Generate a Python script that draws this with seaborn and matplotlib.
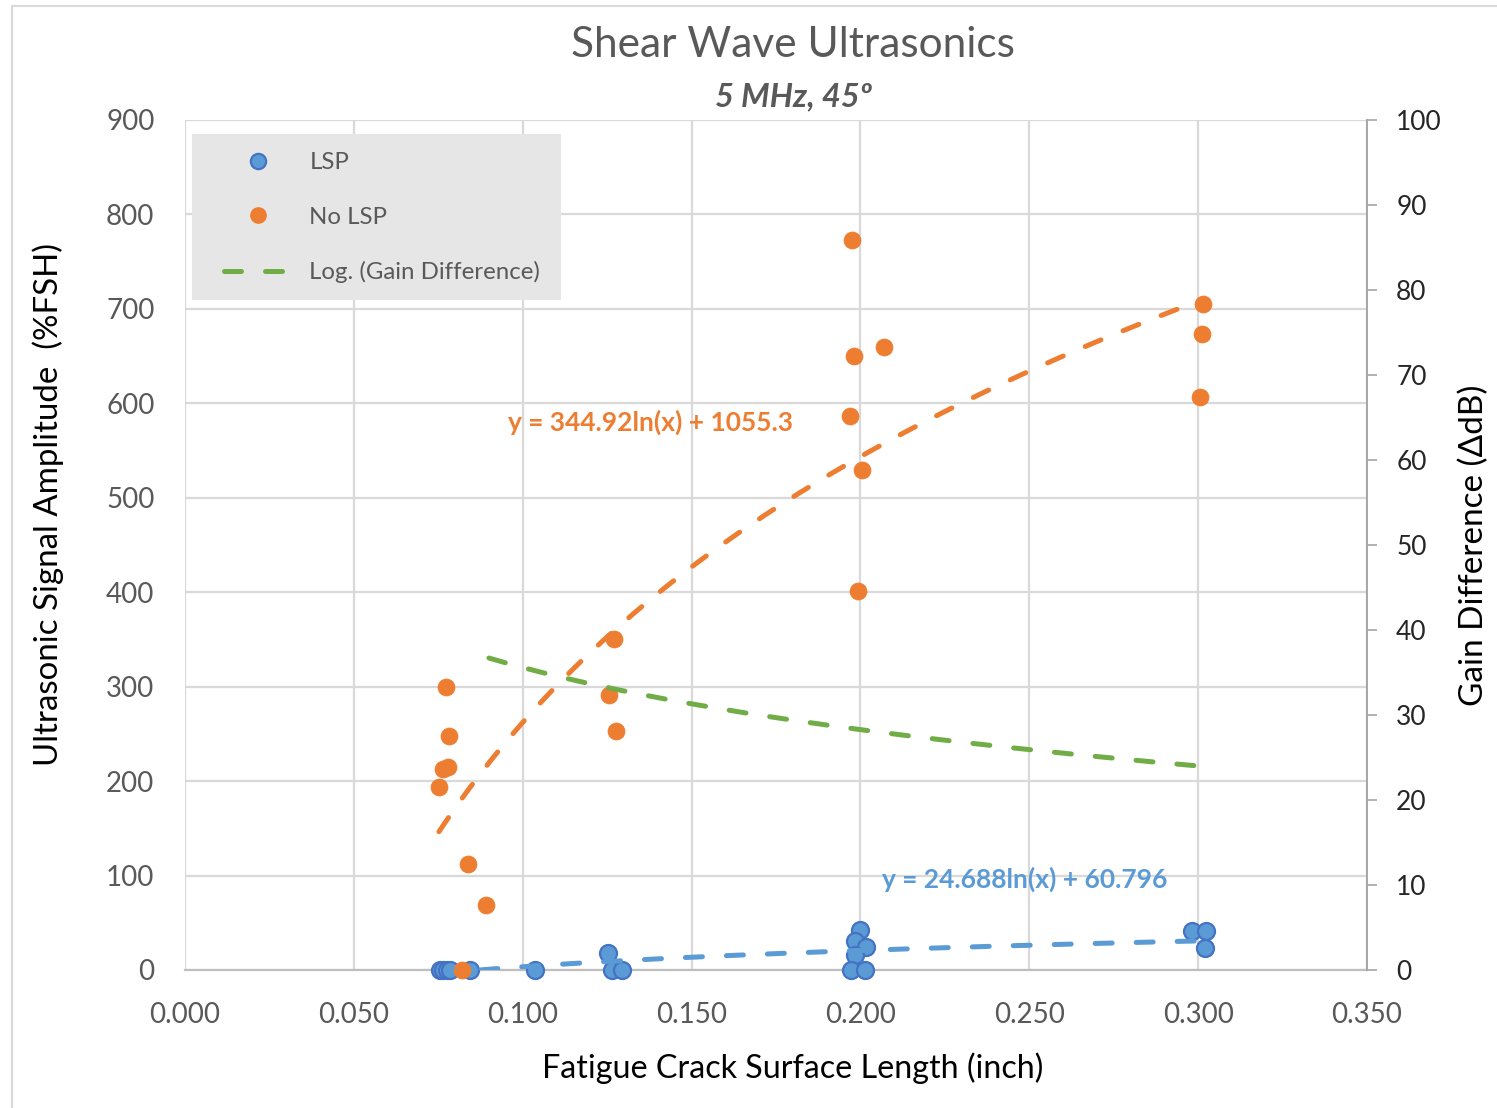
import numpy as np
import pandas as pd
import matplotlib
matplotlib.use("Agg")
import matplotlib.pyplot as plt
import seaborn as sns
from matplotlib.lines import Line2D
from matplotlib.patches import Rectangle

# ---------------- data ----------------
lsp_x = [0.0755, 0.0765, 0.0775, 0.0785, 0.0844, 0.1036, 0.1252, 0.1263, 0.1293,
         0.1999, 0.1984, 0.2017, 0.1984, 0.1972, 0.2014, 0.2982, 0.3023, 0.3020]
lsp_y = [0, 0, 0, 0, 0, 0, 17.7, 0, 0,
         42, 31, 24, 16, 0, 0, 41, 41, 23]

nolsp_x = [0.0773, 0.0782, 0.0779, 0.0764, 0.0752, 0.0838, 0.0891, 0.0820,
           0.1270, 0.1255, 0.1276,
           0.1975, 0.1980, 0.2070, 0.1969, 0.2005, 0.1993,
           0.3014, 0.3011, 0.3006]
nolsp_y = [300, 248, 215, 213, 194, 112, 69, 0,
           350, 291, 253,
           773, 650, 660, 587, 529, 401,
           705, 673, 607]

# log trendline of gain difference (points hidden in the reference)
gain_fit = [-10.55, 11.3]        # slope, intercept
gain_x_range = [0.090, 0.300]

eq_nolsp = "y = 344.92ln(x) + 1055.3"
eq_lsp = "y = 24.688ln(x) + 60.796"

x_ticks = [0.0, 0.05, 0.10, 0.15, 0.20, 0.25, 0.30, 0.35]
y_ticks = list(range(0, 901, 100))
y2_ticks = list(range(0, 101, 10))

# ---------------- styling ----------------
BLUE = "#5B9BD5"
BLUE_EDGE = "#4472C4"
ORANGE = "#ED7D31"
GREEN = "#70AD47"
GRAY_TXT = "#595959"
GRID = "#D9D9D9"

sns.set_theme(style="white")
plt.rcParams["font.family"] = ["Lato", "DejaVu Sans"]

W, H = 1497, 1108
fig = plt.figure(figsize=(W / 100, H / 100), dpi=100)
fig.patch.set_facecolor("white")

# chart-area border
fig.patches.append(Rectangle((12 / W, -0.05), 1.2, 1 - 6 / H + 0.05,
                             transform=fig.transFigure, fill=False,
                             edgecolor=GRID, linewidth=1.5, zorder=0))

ax = fig.add_axes([185 / W, 1 - 970 / H, (1367 - 185) / W, 850 / H])
ax2 = ax.twinx()

df_lsp = pd.DataFrame({"x": lsp_x, "y": lsp_y})
df_no = pd.DataFrame({"x": nolsp_x, "y": nolsp_y})

sns.scatterplot(data=df_lsp, x="x", y="y", ax=ax, color=BLUE, edgecolor=BLUE_EDGE,
                linewidth=1.6, s=150, zorder=3, legend=False, clip_on=False)
sns.scatterplot(data=df_no, x="x", y="y", ax=ax, color=ORANGE, edgecolor=ORANGE,
                linewidth=0.5, s=150, zorder=3, legend=False, clip_on=False)

# log trendlines fitted from the data
def log_fit(xs, ys):
    a, b = np.polyfit(np.log(xs), ys, 1)
    return a, b

dash_kw = dict(linewidth=3.6, dashes=(3.4, 4.8), dash_capstyle="round", zorder=4)

a_no, b_no = log_fit(np.array(nolsp_x), np.array(nolsp_y))
xs = np.linspace(min(nolsp_x), max(nolsp_x), 300)
ax.plot(xs, a_no * np.log(xs) + b_no, color=ORANGE, **dash_kw)

a_l, b_l = log_fit(np.array(lsp_x), np.array(lsp_y))
xs = np.linspace(min(lsp_x), max(lsp_x), 300)
ax.plot(xs, a_l * np.log(xs) + b_l, color=BLUE, **dash_kw)

xs = np.linspace(gain_x_range[0], gain_x_range[1], 300)
ax2.plot(xs, gain_fit[0] * np.log(xs) + gain_fit[1], color=GREEN, **dash_kw)

# axes
ax.set_xlim(0, 0.35)
ax.set_ylim(0, 900)
ax2.set_ylim(0, 100)
ax.set_xticks(x_ticks)
ax.set_xticklabels([f"{v:.3f}" for v in x_ticks])
ax.set_yticks(y_ticks)
ax2.set_yticks(y2_ticks)

ax.grid(True, color=GRID, linewidth=1.6)
ax.set_axisbelow(True)
ax2.grid(False)

for s in ["top", "left", "right"]:
    ax.spines[s].set_visible(False)
ax.spines["bottom"].set_color("#BFBFBF")
ax.spines["bottom"].set_linewidth(1.6)
for s in ["top", "left", "bottom"]:
    ax2.spines[s].set_visible(False)
ax2.spines["right"].set_color("#A6A6A6")
ax2.spines["right"].set_linewidth(1.4)

ax.tick_params(axis="y", length=0, pad=22, labelsize=20, labelcolor=GRAY_TXT)
ax.tick_params(axis="x", length=0, pad=23, labelsize=20, labelcolor=GRAY_TXT)
ax2.tick_params(axis="y", direction="out", length=7, width=1.2, color="#A6A6A6",
                pad=14, labelsize=19, labelcolor="#262626")

ax.set_xlabel("Fatigue Crack Surface Length (inch)", fontsize=23.2, color="black")
ax.xaxis.set_label_coords((793 - 185) / 1182, -(1052 - 970) / 850)
ax.set_ylabel("Ultrasonic Signal Amplitude  (%FSH)", fontsize=23.8, color="black")
ax.yaxis.set_label_coords((64 - 185) / 1182, (970 - 505) / 850)
ax2.set_ylabel("Gain Difference (\u0394dB)", fontsize=24, color="black", labelpad=12)

# equation labels
ax.text(0.1377, 580, eq_nolsp, color=ORANGE, fontsize=19, fontweight="bold",
        ha="center", va="center", zorder=5)
ax.text(0.2487, 96, eq_lsp, color=BLUE, fontsize=19, fontweight="bold",
        ha="center", va="center", zorder=5)

# titles
fig.text(793 / W, 1 - 45 / H, "Shear Wave Ultrasonics", fontsize=30.5, color=GRAY_TXT,
         ha="center", va="center")
fig.text(793 / W, 1 - 97 / H, "5 MHz, 45\u00ba", fontsize=23.5, color=GRAY_TXT,
         fontweight="bold", fontstyle="italic", ha="center", va="center")

# legend with gray background box
ax2.add_patch(Rectangle((192 / W, 1 - 300 / H), (561 - 192) / W, (300 - 134) / H,
                        transform=fig.transFigure, facecolor="#E6E6E6",
                        edgecolor="none", zorder=9, clip_on=False))
handles = [
    Line2D([], [], linestyle="none", marker="o", markersize=11, markerfacecolor=BLUE,
           markeredgecolor=BLUE_EDGE, markeredgewidth=1.6),
    Line2D([], [], linestyle="none", marker="o", markersize=11, markerfacecolor=ORANGE,
           markeredgecolor=ORANGE),
    Line2D([], [], color=GREEN, linewidth=3.6, dashes=(3.4, 4.8), dash_capstyle="round"),
]
leg = ax2.legend(handles, ["LSP", "No LSP", "Log. (Gain Difference)"],
                 loc="upper left", bbox_to_anchor=(224 / W, 1 - 152 / H),
                 bbox_transform=fig.transFigure, borderaxespad=0,
                 fontsize=17.3, frameon=False,
                 handlelength=2.8, handletextpad=0.75, labelspacing=1.4,
                 borderpad=0, labelcolor=GRAY_TXT)
leg.set_zorder(10)

fig.savefig("out.png", dpi=100)
